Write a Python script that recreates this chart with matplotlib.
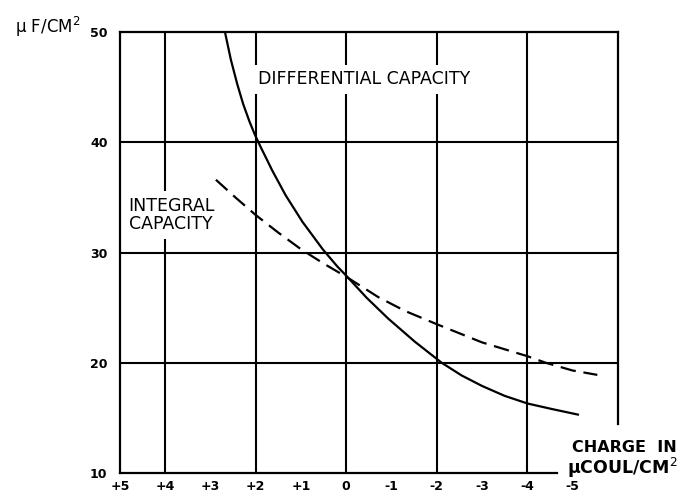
import matplotlib.pyplot as plt

plt.rcParams['font.family'] = ['DejaVu Sans']

# Differential capacity (solid)
diff_charge = [2.68, 2.55, 2.41, 2.28, 2.14, 2.02, 1.90, 1.63, 1.34, 0.97, 0.52, 0.2, 0.0,
               -0.45, -0.93, -1.52, -2.11, -2.55, -3.0, -3.5, -4.01, -4.55, -5.12]
diff_cap = [50.0, 47.5, 45.3, 43.5, 41.9, 40.7, 39.65, 37.4, 35.2, 32.8, 30.3, 28.75, 27.9,
            25.9, 24.0, 21.9, 20.0, 18.85, 17.9, 17.0, 16.3, 15.8, 15.3]

# Integral capacity (dashed)
int_charge = [2.88, 2.45, 2.0, 1.5, 1.0, 0.5, 0.0, -0.71, -1.3, -2.0, -3.0, -4.0, -4.41, -5.0, -5.55]
int_cap = [36.6, 35.0, 33.4, 31.8, 30.3, 29.0, 27.8, 25.95, 24.7, 23.5, 21.85, 20.6, 20.0, 19.3, 18.9]

x_ticks = [5, 4, 3, 2, 1, 0, -1, -2, -3, -4, -5]
x_labels = ['+5', '+4', '+3', '+2', '+1', '0', '-1', '-2', '-3', '-4', '-5']
y_ticks = [10, 20, 30, 40, 50]
x_grid = [4, 2, 0, -2, -4]
y_grid = [20, 30, 40]

fig = plt.figure(figsize=(6.79, 4.94), dpi=100)
ax = fig.add_axes([0.1767, 0.0425, 0.7330, 0.8927])

ax.set_xlim(5, -6)
ax.set_ylim(10, 50)

# grid, drawn as heavy ruled lines
for gx in x_grid:
    ax.axvline(gx, color='black', lw=1.5, zorder=1)
for gy in y_grid:
    ax.axhline(gy, color='black', lw=1.5, zorder=1)

for s in ax.spines.values():
    s.set_linewidth(1.6)
# corner left open for the axis caption
ax.spines['right'].set_bounds(14.4, 50)
ax.spines['bottom'].set_bounds(-4.65, 5)

ax.plot(diff_charge, diff_cap, color='black', lw=1.6, zorder=3)
ax.plot(int_charge, int_cap, color='black', lw=1.6, dashes=(7, 3.5), zorder=3)

ax.set_xticks(x_ticks)
ax.set_xticklabels(x_labels)
ax.set_yticks(y_ticks)
ax.tick_params(length=0)
ax.tick_params(axis='x', pad=5)
ax.tick_params(axis='y', pad=9)
for lab in ax.get_xticklabels() + ax.get_yticklabels():
    lab.set_fontweight('bold')
    lab.set_fontsize(9)

ax.text(1.95, 45.7, 'DIFFERENTIAL CAPACITY', fontsize=12.5, ha='left', va='center',
        bbox=dict(facecolor='white', edgecolor='none', boxstyle='square,pad=0.3'), zorder=2)
ax.text(4.81, 33.4, 'INTEGRAL\nCAPACITY', fontsize=12.5, ha='left', va='center',
        linespacing=1.0, bbox=dict(facecolor='white', edgecolor='none',
                                   boxstyle='square,pad=0.35'), zorder=2)

fig.text(0.022, 0.945, 'μ F/CM$^2$', fontsize=12, ha='left', va='center')
fig.text(0.996, 0.094, 'CHARGE  IN', fontsize=11.5, fontweight='bold', ha='right', va='center')
fig.text(0.998, 0.052, 'μCOUL/CM$^2$', fontsize=12.5, fontweight='bold', ha='right', va='center')

fig.savefig('out.png', dpi=100)
